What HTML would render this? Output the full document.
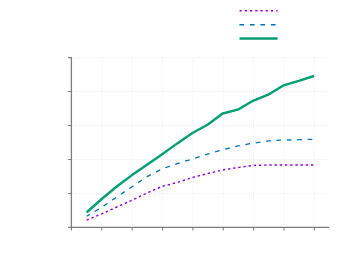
<!DOCTYPE html>
<html>
<head>
<meta charset="utf-8">
<title>Chart</title>
<style>
html,body{margin:0;padding:0;background:#ffffff;}
body{width:354px;height:275px;overflow:hidden;font-family:"Liberation Sans",sans-serif;}
svg{display:block;}
</style>
</head>
<body>
<svg width="354" height="275" viewBox="0 0 354 275">
<rect x="0" y="0" width="354" height="275" fill="#ffffff"/>
<!-- grid -->
<g stroke="#efefef" stroke-width="1" stroke-dasharray="1,1" fill="none">
<path d="M73 57.60H329 M73 91.56H329 M73 125.52H329 M73 159.48H329 M73 193.44H329"/>
<path d="M101.77 58V227 M132.14 58V227 M162.51 58V227 M192.88 58V227 M223.25 58V227 M253.62 58V227 M283.99 58V227 M314.36 58V227"/>
</g>
<!-- axes -->
<g stroke="#7c7c7c" stroke-width="1.3" fill="none">
<path d="M71.4 57V228"/>
<path d="M70.5 227.4H329.3"/>
</g>
<g stroke="#808080" stroke-width="1.1" fill="none">
<path d="M68 57.60H71.4 M68 91.56H71.4 M68 125.52H71.4 M68 159.48H71.4 M68 193.44H71.4 M68 227.40H71.4"/>
<path d="M71.40 227.4V230.6 M101.77 227.4V230.6 M132.14 227.4V230.6 M162.51 227.4V230.6 M192.88 227.4V230.6 M223.25 227.4V230.6 M253.62 227.4V230.6 M283.99 227.4V230.6 M314.36 227.4V230.6"/>
</g>
<!-- legend -->
<path d="M239.55 10.7H277.6" stroke="#9400d3" stroke-width="1.5" stroke-dasharray="2.2,3.03" fill="none"/>
<path d="M239.45 24.65H277.6" stroke="#0072b2" stroke-width="1.5" stroke-dasharray="4.7,5.77" fill="none"/>
<path d="M239.5 38.45H277.6" stroke="#009e73" stroke-width="2.5" fill="none"/>
<!-- data -->
<path d="M86.6 220.1L101.7 213.9L116.8 207L132 200.2L147 193L162.2 186.3L177.3 182.5L192.4 177.5L207.5 173.6L222.7 170L237.8 167.5L253 165.4L268.2 165L283.4 165L298.5 165L313.9 165" stroke="#9400d3" stroke-width="1.45" stroke-dasharray="2.4,2.803" fill="none" stroke-linejoin="round"/>
<path d="M86.6 216.3L101.7 207.3L116.8 197L132 186.7L147 176.7L162.2 168.9L177.3 163.6L192.4 159L207.5 154.2L222.7 149.8L237.8 145.9L253 143.2L268.2 140.9L283.4 140.1L298.5 139.7L313.9 139.3" stroke="#0072b2" stroke-width="1.3" stroke-dasharray="4.7,5.72" stroke-dashoffset="1" fill="none" stroke-linejoin="round"/>
<path d="M86.6 212.5L101.7 199L116.8 186.5L132 175.1L147 164.8L162.2 154.3L177.3 143.4L192.4 133L207.5 124.8L222.7 113.5L237.8 109.7L253 100.8L268.2 94.7L283.7 85.3L298.8 80.8L314 76" stroke="#009e73" stroke-width="2.4" fill="none" stroke-linejoin="round"/>
</svg>
</body>
</html>
